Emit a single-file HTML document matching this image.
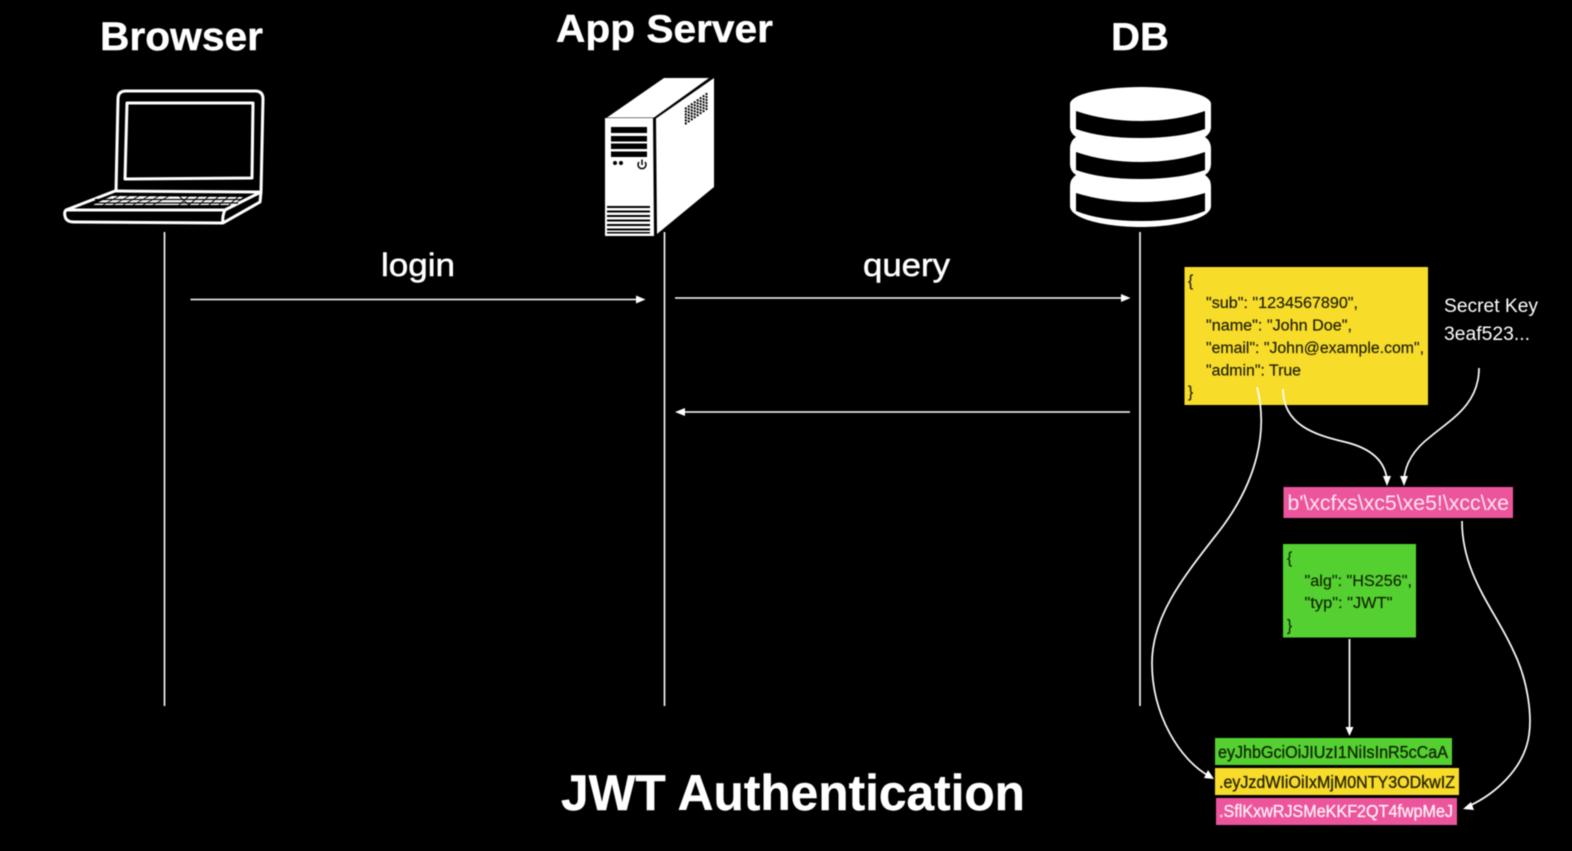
<!DOCTYPE html>
<html>
<head>
<meta charset="utf-8">
<style>
html,body{margin:0;padding:0;background:#000;width:1572px;height:851px;overflow:hidden}
svg{display:block;filter:blur(0.4px)}
text{font-family:"Liberation Sans",sans-serif}
.t{font-weight:bold;fill:#fff;stroke:#fff;stroke-width:0.4px}
</style>
</head>
<body>
<svg width="1572" height="851" viewBox="0 0 1572 851" xmlns="http://www.w3.org/2000/svg">
<rect width="1572" height="851" fill="#000"/>

<!-- titles -->
<text class="t" x="100" y="50" font-size="40" textLength="163" lengthAdjust="spacingAndGlyphs">Browser</text>
<text class="t" x="556" y="42" font-size="39" textLength="217" lengthAdjust="spacingAndGlyphs">App Server</text>
<text class="t" x="1111" y="50" font-size="39" textLength="58" lengthAdjust="spacingAndGlyphs">DB</text>
<text x="381" y="276" font-size="32" fill="#fff" stroke="#fff" stroke-width="0.5" textLength="74" lengthAdjust="spacingAndGlyphs">login</text>
<text x="863" y="276" font-size="32" fill="#fff" stroke="#fff" stroke-width="0.5" textLength="87" lengthAdjust="spacingAndGlyphs">query</text>
<text class="t" x="561" y="810" font-size="50" textLength="464" lengthAdjust="spacingAndGlyphs">JWT Authentication</text>

<!-- laptop -->
<g fill="none" stroke="#fff" stroke-linejoin="round">
<path d="M116 191 L118 99 Q118 91 126 91 L255 91 Q263 91 263 99 L261 192" stroke-width="3"/>
<path d="M127 103 L253 103 L252 178 L125 179 Z" stroke-width="3"/>
<path d="M115 191 L261 192 L225 210 L66 210 Q64 212 65 216 Q66 222 74 222 L223 223 L260 202 L261 192" stroke-width="3"/>
<path d="M66 210 L115 191" stroke-width="3"/>
<path d="M225 210 Q222 216 223 223" stroke-width="3"/>
</g>
<polygon points="92,205 112,196 243,197 233,205" fill="#fff"/>
<g stroke="#000" stroke-width="1.2" fill="none">
<path d="M95 199.5 L242 199.5 M92 203 L238 203"/>
<path d="M109 196 L92 205 M119 196 L103 205 M129 196 L113 205 M139 196 L123 205 M149 196 L133 205 M159 196 L143 205 M169 196 L153 205 M179 196 L189 205 M189 196 L179 205 M199 196 L189 205 M209 196 L199 205 M219 196 L209 205 M229 196 L219 205 M239 196 L229 205" stroke-width="1"/>
</g>

<!-- server -->
<polygon points="607,117.5 664,78 709,78 654,117.5" fill="#fff"/>
<polygon points="605,118 653,118 654,236 605,236" fill="#fff"/>
<polygon points="656,118.5 714,78 714,187 657,234" fill="#fff"/>
<g fill="#000">
<rect x="611" y="127" width="36" height="6"/>
<rect x="611" y="136" width="36" height="5.5"/>
<rect x="611" y="143.5" width="36" height="5.5"/>
<rect x="611" y="151.5" width="36" height="5.5"/>
<circle cx="615" cy="163" r="2"/>
<circle cx="621" cy="163" r="2"/>
<rect x="607" y="206" width="43" height="2"/>
<rect x="607" y="210.5" width="43" height="2"/>
<rect x="607" y="215" width="43" height="2"/>
<rect x="607" y="219.5" width="43" height="2"/>
<rect x="607" y="224" width="43" height="2"/>
<rect x="607" y="228.5" width="43" height="2"/>
<rect x="607" y="232" width="43" height="1.5"/>
</g>
<g fill="none" stroke="#000">
<path d="M639 162 A4 4 0 1 0 645 162" stroke-width="1.5"/>
<path d="M642 159.5 L642 165" stroke-width="1.5"/>
<g stroke-width="2" stroke-dasharray="2 1.6">
<path d="M685 109 L708 93"/>
<path d="M685 112 L708 96"/>
<path d="M685 115 L708 99"/>
<path d="M685 118 L708 102"/>
<path d="M685 121 L708 105"/>
<path d="M685 124 L708 108"/>
</g>
</g>

<!-- DB -->
<g transform="translate(0,-1)">
<path d="M1070 105 A70.5 17 0 0 1 1211 105 L1211 128 Q1211 134 1205 138 Q1211 142 1211 150 L1211 165 Q1211 172 1205 176 Q1211 180 1211 187 L1211 207 C1211 220 1175 228 1140.5 228 C1106 228 1070 220 1070 207 L1070 187 Q1070 180 1076 176 Q1070 172 1070 165 L1070 150 Q1070 142 1076 138 Q1070 134 1070 128 Z" fill="#fff"/>
<g fill="#000">
<path d="M1076 112 Q1105 122 1140.5 122 Q1176 122 1205 112 L1205 130 Q1180 139 1140.5 139 Q1101 139 1076 130 Z"/>
<path d="M1076 153 Q1105 163 1140.5 163 Q1176 163 1205 153 L1205 171 Q1180 180 1140.5 180 Q1101 180 1076 171 Z"/>
<path d="M1076 194 Q1105 203 1140.5 203 Q1176 203 1205 194 L1205 212 Q1180 222 1140.5 222 Q1101 222 1076 212 Z"/>
</g>
</g>

<!-- lifelines -->
<g stroke="#fff" stroke-width="1.6" fill="none">
<path d="M164.5 232 V706"/>
<path d="M664.5 232 V706"/>
<path d="M1140 232 V706"/>
<path d="M190.5 299.5 H640"/>
<path d="M675 298 H1125"/>
<path d="M680 412 H1130"/>
</g>
<g fill="#fff">
<polygon points="645.5,299.5 636,295.5 636,303.5"/>
<polygon points="1130.5,298 1121,294 1121,302"/>
<polygon points="675,412 685,408 685,416"/>
</g>

<!-- boxes -->
<rect x="1184.5" y="267" width="243.5" height="138" fill="#f7dc2a"/>
<rect x="1283.5" y="487" width="229.5" height="31" fill="#ec559c"/>
<rect x="1283" y="544" width="133" height="93.5" fill="#54d130"/>
<rect x="1215" y="738" width="237" height="27" fill="#54d130"/>
<rect x="1215" y="768" width="244" height="27" fill="#f7dc2a"/>
<rect x="1216" y="798" width="241" height="27" fill="#ec559c"/>

<!-- yellow text -->
<g font-size="15.5" fill="#1c1c08" stroke="#1c1c08" stroke-width="0.15">
<text x="1188" y="286">{</text>
<text x="1206" y="308" textLength="152" lengthAdjust="spacingAndGlyphs">"sub": "1234567890",</text>
<text x="1206" y="330.5" textLength="146" lengthAdjust="spacingAndGlyphs">"name": "John Doe",</text>
<text x="1206" y="353" textLength="218" lengthAdjust="spacingAndGlyphs">"email": "John@example.com",</text>
<text x="1206" y="375.5" textLength="95" lengthAdjust="spacingAndGlyphs">"admin": True</text>
<text x="1188" y="397">}</text>
</g>
<text x="1444" y="312" font-size="19" fill="#fff" textLength="94" lengthAdjust="spacingAndGlyphs">Secret Key</text>
<text x="1444" y="340" font-size="19" fill="#fff" textLength="86" lengthAdjust="spacingAndGlyphs">3eaf523...</text>
<text x="1287.5" y="510" font-size="21.5" fill="#fbe6f0" textLength="221.5" lengthAdjust="spacingAndGlyphs">b'\xcfxs\xc5\xe5!\xcc\xe</text>

<!-- green text -->
<g font-size="15.5" fill="#122208" stroke="#122208" stroke-width="0.15">
<text x="1287" y="563">{</text>
<text x="1304.5" y="586" textLength="107.5" lengthAdjust="spacingAndGlyphs">"alg": "HS256",</text>
<text x="1304.5" y="608" textLength="88" lengthAdjust="spacingAndGlyphs">"typ": "JWT"</text>
<text x="1287" y="630.5">}</text>
</g>

<!-- bars -->
<g font-size="17.5" stroke-width="0.35">
<text x="1218" y="758" fill="#14260a" stroke="#14260a" textLength="230" lengthAdjust="spacingAndGlyphs">eyJhbGciOiJIUzI1NiIsInR5cCaA</text>
<text x="1219" y="788" fill="#2a2406" stroke="#2a2406" textLength="236" lengthAdjust="spacingAndGlyphs">.eyJzdWIiOiIxMjM0NTY3ODkwIZ</text>
<text x="1219" y="817" fill="#fdeef5" stroke="#fdeef5" textLength="234" lengthAdjust="spacingAndGlyphs">.SflKxwRJSMeKKF2QT4fwpMeJ</text>
</g>

<!-- curves -->
<g fill="none" stroke="#fff" stroke-width="1.7">
<path d="M1257 387 C1268 430 1258 480 1220 530 C1185 575 1152 615 1152 663 C1152 715 1180 760 1209 776"/>
<path d="M1283 389 C1283 425 1315 435 1345 442 C1370 448 1385 460 1387 480"/>
<path d="M1479 368 C1479 405 1450 420 1430 437 C1413 450 1405 465 1404 480"/>
<path d="M1462 521 C1462 575 1495 610 1513 650 C1528 680 1532 715 1529 735 C1524 770 1493 795 1469 806"/>
<path d="M1349.5 639 V730"/>
</g>
<g fill="#fff">
<polygon points="1387,486 1383,476 1391,476"/>
<polygon points="1404,486 1400,476 1408,476"/>
<polygon points="1349.5,736 1345.5,727 1353.5,727"/>
<polygon points="1214,779 1204,778 1208,770"/>
<polygon points="1463,809 1471,802 1474,810"/>
</g>
</svg>
</body>
</html>
